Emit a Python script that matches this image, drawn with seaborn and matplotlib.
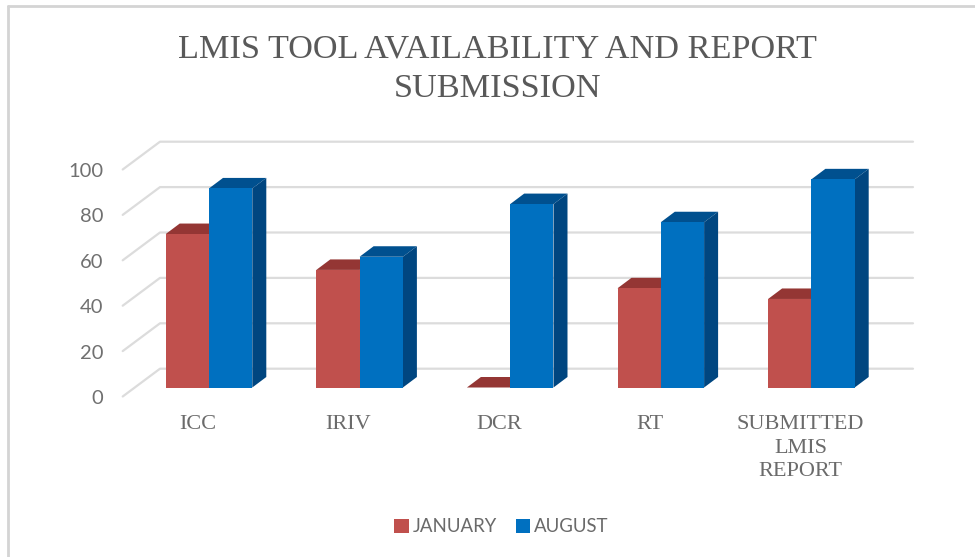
import matplotlib
matplotlib.use('Agg')
import matplotlib.pyplot as plt
from matplotlib.lines import Line2D
from matplotlib.patches import Polygon
from matplotlib.transforms import Affine2D
import pandas as pd
import seaborn as sns

# Data
categories = ['ICC', 'IRIV', 'DCR', 'RT', 'SUBMITTED\nLMIS\nREPORT']
january = [67.6, 51.8, 0, 43.7, 39]
august = [87.7, 57.6, 80.8, 72.8, 91.7]
y_ticks = [0, 20, 40, 60, 80, 100]

df = pd.DataFrame({'category': categories * 2,
                   'value': january + august,
                   'month': ['JANUARY'] * 5 + ['AUGUST'] * 5})

sns.set_theme(style='white')
fig = plt.figure(figsize=(9.75, 5.57), dpi=100)
ax = fig.add_axes([133.7 / 975, (557 - 387.5) / 557, 753 / 975, 227 / 557])

sns.barplot(data=df, x='category', y='value', hue='month',
            palette={'JANUARY': '#C0504D', 'AUGUST': '#0070C0'},
            width=0.575, gap=0, saturation=1, errorbar=None,
            linewidth=0, zorder=3, ax=ax)
ax.set_xlim(-0.5, 4.5)
ax.set_ylim(0, 100)
ax.set_xlabel('')
ax.set_ylabel('')
sns.despine(ax=ax, left=True, bottom=True)

# pixel sizes converted to data units
px_x = 1 / 150.6
px_y = 1 / 2.27

# back wall and floor lines of the fake 3d box
wall_dx, wall_dy = 26.3 * px_x, 18.8 * px_y
front_dx, front_dy = -11 * px_x, -9 * px_y
for v in y_ticks:
    ax.plot([-0.5 + front_dx, -0.5 + wall_dx, 4.5 + wall_dx],
            [v + front_dy, v + wall_dy, v + wall_dy],
            color='#DCDCDC', lw=1.6, clip_on=False, zorder=1)

# top and side faces of each bar
depth_x, depth_y = 14 * px_x, 10.5 * px_y
top_colors = ['#943634', '#00508F']
side_colors = ['#7F2D2B', '#004680']
for container, top_c, side_c in zip(ax.containers, top_colors, side_colors):
    for bar in container:
        x0 = bar.get_x()
        x1 = x0 + bar.get_width()
        h = bar.get_height()
        ax.add_patch(Polygon([(x0, h), (x1, h), (x1 + depth_x, h + depth_y), (x0 + depth_x, h + depth_y)],
                             facecolor=top_c, edgecolor='none', clip_on=False, zorder=2))
        ax.add_patch(Polygon([(x1, 0), (x1 + depth_x, depth_y), (x1 + depth_x, h + depth_y), (x1, h)],
                             facecolor=side_c, edgecolor='none', clip_on=False, zorder=2))

# ticks sit on the front plane of the box
ax.set_yticks(y_ticks)
ax.tick_params(axis='both', length=0)
ax.tick_params(axis='y', labelsize=14.5, labelcolor='#707070', pad=22)
ax.tick_params(axis='x', labelsize=16, labelcolor='#6B6B6B', pad=20)
for lab in ax.get_yticklabels():
    lab.set_fontfamily('Lato')
    lab.set_transform(lab.get_transform() + Affine2D().translate(0, -9.5))
for lab in ax.get_xticklabels():
    lab.set_fontfamily('Liberation Serif')
    lab.set_linespacing(1.32)
    lab.set_transform(lab.get_transform() + Affine2D().translate(-11, 0))

fig.text(497 / 975, 1 - 69 / 557, 'LMIS TOOL AVAILABILITY AND REPORT\nSUBMISSION',
         ha='center', va='center', fontsize=24.7, color='#595959',
         family='Liberation Serif', linespacing=1.42)

sns.move_legend(ax, 'center', bbox_to_anchor=(501.5 / 975, 1 - 526.5 / 557),
                bbox_transform=fig.transFigure, ncol=2, frameon=False, title=None,
                fontsize=13.4, handlelength=0.78, handleheight=0.78,
                handletextpad=0.22, columnspacing=1.0)
for txt in ax.get_legend().get_texts():
    txt.set_color('#6A6A6A')
    txt.set_fontfamily('Lato')

# picture frame at the top and left edge
frame = dict(color='#D4D4D4', lw=2, transform=fig.transFigure)
fig.add_artist(Line2D([8 / 975, 1], [1 - 6 / 557, 1 - 6 / 557], **frame))
fig.add_artist(Line2D([8 / 975, 8 / 975], [1 - 6 / 557, 0], **frame))

fig.savefig('out.png', dpi=100)
